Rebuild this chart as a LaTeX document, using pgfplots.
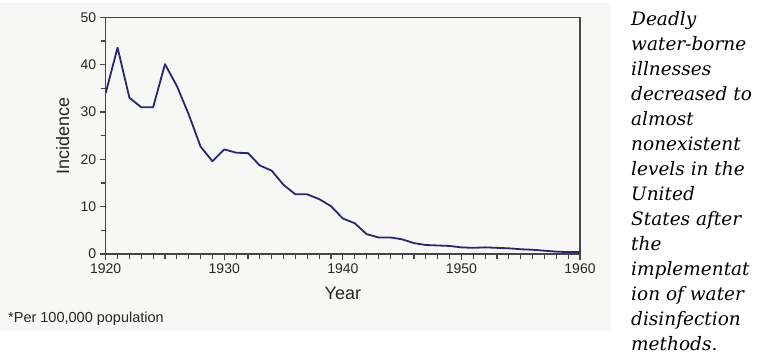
\documentclass[border=0pt]{standalone}
\usepackage{fontspec}
\setmainfont{Liberation Sans}
\newfontfamily\serifit{DejaVu Serif}
\usepackage{pgfplots}
\pgfplotsset{compat=1.18}
\definecolor{bgcol}{RGB}{247,247,245}
\definecolor{linecol}{RGB}{40,40,110}
\definecolor{axcol}{RGB}{70,70,70}
\begin{document}
\begin{tikzpicture}
\useasboundingbox (0pt,0pt) rectangle (758pt,361pt);
\fill[bgcol] (0pt,30pt) rectangle (611pt,358pt);
\begin{axis}[
  at={(105.7pt,107pt)}, anchor=south west,
  scale only axis, width=474.3pt, height=236.7pt,
  xmin=1920, xmax=1960, ymin=0, ymax=50,
  xtick={1920,1930,...,1960},
  minor xtick={1921,1922,...,1929,1931,1932,...,1939,1941,1942,...,1949,1951,1952,...,1959},
  ytick={0,10,...,50}, minor ytick={5,15,...,45},
  tick align=outside, tick pos=left,
  major tick length=6pt, minor tick length=5pt,
  axis line style={axcol, line width=1.2pt},
  tick style={draw=axcol, line width=1.1pt},
  minor tick style={draw=axcol, line width=1.1pt},
  /pgf/number format/assume math mode=true,
  xticklabel style={/pgf/number format/1000 sep={}, font=\fontsize{14}{16}\selectfont, text=black!85},
  yticklabel style={font=\fontsize{14}{16}\selectfont, text=black!85},
  xlabel={Year}, ylabel={Incidence},
  every axis x label/.style={at={(axis description cs:0.5,0)}, anchor=center, yshift=-39.5pt, font=\fontsize{18}{20}\selectfont, text=black!85},
  every axis y label/.style={at={(axis description cs:0,0.5)}, anchor=center, rotate=90, yshift=43pt, font=\fontsize{18}{20}\selectfont, text=black!85},
]
\addplot[linecol, line width=1.8pt, line join=round] coordinates {
(1920,34.0) (1921,43.6) (1922,33.0) (1923,31.0) (1924,31.0) (1925,40.1)
(1926,35.5) (1927,29.5) (1928,22.7) (1929,19.6) (1930,22.1) (1931,21.4)
(1932,21.3) (1933,18.7) (1934,17.6) (1935,14.6) (1936,12.6) (1937,12.6)
(1938,11.6) (1939,10.1) (1940,7.5) (1941,6.5) (1942,4.2) (1943,3.5)
(1944,3.5) (1945,3.1) (1946,2.3) (1947,1.9) (1948,1.8) (1949,1.7)
(1950,1.4) (1951,1.3) (1952,1.4) (1953,1.3) (1954,1.2) (1955,1.0)
(1956,0.9) (1957,0.7) (1958,0.5) (1959,0.4) (1960,0.4)
};
\end{axis}
\node[anchor=west, font=\fontsize{14.5}{16}\selectfont, text=black!85, inner sep=0pt] at (8pt,42pt) {*Per 100,000 population};
\node[anchor=north west, align=left, inner sep=0pt, font=\serifit\itshape\fontsize{18.5}{25}\selectfont] at (631pt,350pt) {Deadly\\ water-borne\\ illnesses\\ decreased to\\ almost\\ nonexistent\\ levels in the\\ United\\ States after\\ the\\ implementat\\ ion of water\\ disinfection\\ methods.};
\end{tikzpicture}
\end{document}
